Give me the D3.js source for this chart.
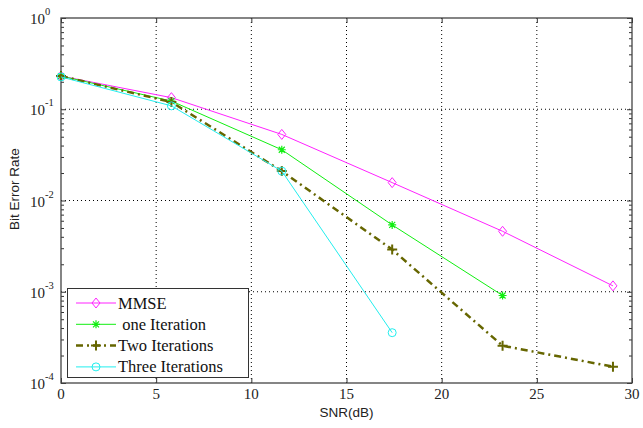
<!DOCTYPE html>
<html><head><meta charset="utf-8">
<script src="https://cdn.jsdelivr.net/npm/d3@7"></script>
<style>body{margin:0;background:#fff;} svg{display:block;}</style>
</head><body>
<svg id="c" width="643" height="428"></svg>
<script>
const snr = [0, 5.8, 11.6, 17.4, 23.2, 29];
const mmse = [0.231, 0.134, 0.053, 0.0157, 0.0046, 0.00116];
const oneIter = [0.231, 0.123, 0.036, 0.0054, 0.00091];
const twoIter = [0.231, 0.12, 0.021, 0.0029, 0.000256, 0.000151];
const threeIter = [0.226, 0.109, 0.021, 0.000356];
const xTicks = [0, 5, 10, 15, 20, 25, 30];
const yExps = [0, -1, -2, -3, -4];
const seriesNames = ["MMSE", " one Iteration", "Two Iterations", "Three Iterations"];

const svg = d3.select("#c");
const L = 61, R = 632, T = 18, B = 383;
const x = d3.scaleLinear().domain([0, 30]).range([L, R]);
const y = d3.scaleLog().domain([1e-4, 1]).range([B, T]);

// grid
const g = svg.append("g");
xTicks.slice(1, -1).forEach(t => g.append("line").attr("x1", x(t)).attr("x2", x(t)).attr("y1", T).attr("y2", B)
  .attr("stroke", "#000").attr("stroke-width", 1).attr("stroke-dasharray", "1,3"));
yExps.slice(1, -1).forEach(e => g.append("line").attr("x1", L).attr("x2", R).attr("y1", y(Math.pow(10, e))).attr("y2", y(Math.pow(10, e)))
  .attr("stroke", "#000").attr("stroke-width", 1).attr("stroke-dasharray", "1,3"));

// axes with inward ticks
const minor = [];
for (let e = -4; e < 0; e++) for (let m = 2; m <= 9; m++) minor.push(m * Math.pow(10, e));
const axCol = "#333";
function styleAxis(sel) { sel.select(".domain").remove(); sel.selectAll("line").attr("stroke", axCol); sel.selectAll("text").remove(); }
svg.append("g").attr("transform", `translate(0,${B})`).call(d3.axisBottom(x).tickValues(xTicks).tickSize(-5)).call(styleAxis);
svg.append("g").attr("transform", `translate(0,${T})`).call(d3.axisTop(x).tickValues(xTicks).tickSize(-5)).call(styleAxis);
svg.append("g").attr("transform", `translate(${L},0)`).call(d3.axisLeft(y).tickValues(yExps.map(e => Math.pow(10, e))).tickSize(-5)).call(styleAxis);
svg.append("g").attr("transform", `translate(${R},0)`).call(d3.axisRight(y).tickValues(yExps.map(e => Math.pow(10, e))).tickSize(-5)).call(styleAxis);
svg.append("g").attr("transform", `translate(${L},0)`).call(d3.axisLeft(y).tickValues(minor).tickSize(-3)).call(styleAxis);
svg.append("g").attr("transform", `translate(${R},0)`).call(d3.axisRight(y).tickValues(minor).tickSize(-3)).call(styleAxis);
svg.append("rect").attr("x", L).attr("y", T).attr("width", R - L).attr("height", B - T)
  .attr("fill", "none").attr("stroke", "#444").attr("stroke-width", 1.3);

// tick labels
const serif = "'Liberation Serif','Times New Roman',serif";
xTicks.forEach(t => svg.append("text").attr("x", x(t)).attr("y", 399).attr("text-anchor", "middle")
  .attr("font-family", serif).attr("font-size", 15).attr("fill", "#222").text(t));
yExps.forEach(e => {
  svg.append("text").attr("x", 45).attr("y", y(Math.pow(10, e)) + 6).attr("text-anchor", "end")
    .attr("font-family", serif).attr("font-size", 15).attr("fill", "#222").text("10");
  svg.append("text").attr("x", 45).attr("y", y(Math.pow(10, e)) - 3).attr("text-anchor", "start")
    .attr("font-family", serif).attr("font-size", 10.5).attr("fill", "#222").text(e === 0 ? "0" : "-" + (-e));
});
const sans = "'Liberation Sans',Arial,sans-serif";
svg.append("text").attr("x", (L + R) / 2).attr("y", 417).attr("text-anchor", "middle")
  .attr("font-family", sans).attr("font-size", 13.5).attr("fill", "#222").text("SNR(dB)");
svg.append("text").attr("transform", "translate(19,189) rotate(-90)").attr("text-anchor", "middle")
  .attr("font-family", sans).attr("font-size", 13.5).attr("fill", "#222").text("Bit Error Rate");

// series
const series = [
  { vals: mmse, color: "#ff22ff", w: 1, dash: null, marker: "diamond" },
  { vals: oneIter, color: "#11ee11", w: 1, dash: null, marker: "star" },
  { vals: twoIter, color: "#666600", w: 2.5, dash: "7,4,2,4", marker: "plus" },
  { vals: threeIter, color: "#22eeee", w: 1, dash: null, marker: "circle" }
];
const line = d3.line().x(d => x(d[0])).y(d => y(d[1]));
function drawMarker(sel, type, cx, cy, color) {
  if (type === "diamond") sel.append("path").attr("d", `M${cx},${cy - 5}L${cx + 4},${cy}L${cx},${cy + 5}L${cx - 4},${cy}Z`)
    .attr("fill", "none").attr("stroke", color).attr("stroke-width", 1);
  else if (type === "circle") sel.append("circle").attr("cx", cx).attr("cy", cy).attr("r", 4)
    .attr("fill", "none").attr("stroke", color).attr("stroke-width", 1);
  else if (type === "plus") sel.append("path").attr("d", `M${cx - 5},${cy}H${cx + 5}M${cx},${cy - 5}V${cy + 5}`)
    .attr("stroke", color).attr("stroke-width", 2);
  else if (type === "star") sel.append("path").attr("d", `M${cx - 4},${cy}H${cx + 4}M${cx},${cy - 4}V${cy + 4}M${cx - 3},${cy - 3}L${cx + 3},${cy + 3}M${cx - 3},${cy + 3}L${cx + 3},${cy - 3}`)
    .attr("stroke", color).attr("stroke-width", 1.2);
}
series.forEach(s => {
  const pts = s.vals.map((v, i) => [snr[i], v]);
  svg.append("path").datum(pts).attr("d", line).attr("fill", "none").attr("stroke", s.color)
    .attr("stroke-width", s.w).attr("stroke-dasharray", s.dash);
  pts.forEach(p => drawMarker(svg, s.marker, x(p[0]), y(p[1]), s.color));
});

// legend
const lg = svg.append("g");
lg.append("rect").attr("x", 67.5).attr("y", 288.5).attr("width", 181).attr("height", 89)
  .attr("fill", "#fff").attr("stroke", "#333").attr("stroke-width", 1);
series.forEach((s, i) => {
  const yy = 303 + i * 21.3;
  lg.append("line").attr("x1", 76).attr("x2", 116).attr("y1", yy).attr("y2", yy).attr("stroke", s.color)
    .attr("stroke-width", s.w).attr("stroke-dasharray", s.dash);
  drawMarker(lg, s.marker, 96, yy, s.color);
  lg.append("text").attr("x", 118).attr("y", yy + 5.5).attr("font-family", serif).attr("font-size", 16.5)
    .attr("fill", "#111").attr("xml:space", "preserve").style("white-space", "pre").text(seriesNames[i]);
});
</script>
</body></html>
